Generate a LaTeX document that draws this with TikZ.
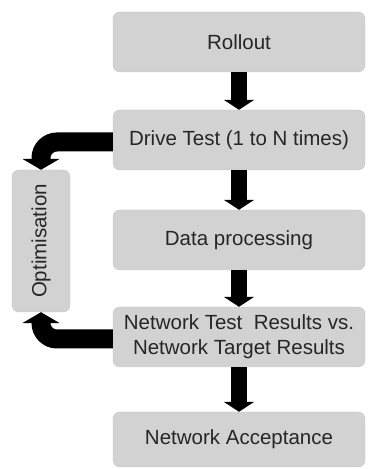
\documentclass[tikz,border=0pt]{standalone}
\usepackage{fontspec}
\setmainfont{Liberation Sans}
\usepackage{graphicx}
\usetikzlibrary{arrows.meta}
\tikzstyle{box} = [draw=gray!45,fill=gray!35,rounded corners=7pt,minimum width=252pt,minimum height=60pt,inner sep=2pt,align=center,text=black!85,font=\fontsize{20.5}{25}\selectfont]
\tikzstyle{arr} = [line width=16pt,-{Triangle[width=30pt,length=10pt]}]
\tikzstyle{backarr} = [line width=19pt,rounded corners=16pt,-{Triangle[width=37pt,length=11pt]}]

\begin{document}
\begin{tikzpicture}[x=1pt,y=1pt]

% Bounding box and blocks

    \useasboundingbox (0,0) rectangle (368,469);
    \def\cx{239}
    \node[box] at (\cx,427) (rollout) {Rollout};
    \node[box] at (\cx,329) (drive) {Drive Test (1 to N times)};
    \node[box] at (\cx,229) (data) {Data processing};
    \node[box] at (\cx,132) (test) {Network Test\ \ Results vs.\\Network Target Results};
    \node[box,minimum height=55pt] at (\cx,29.5) (accept) {Network Acceptance};
    \node[box,minimum width=58pt,minimum height=142pt] at (41,228) (opt) {\rotatebox{90}{Optimisation}};

    \draw[arr] (rollout) -- (drive);
    \draw[arr] (drive) -- (data);
    \draw[arr] (data) -- (test);
    \draw[arr] (test) -- (accept);
    \draw[backarr] ([yshift=-2pt]drive.west) -| (opt.north);
    \draw[backarr] ([yshift=-2pt]test.west) -| (opt.south);

\end{tikzpicture}
\end{document}
